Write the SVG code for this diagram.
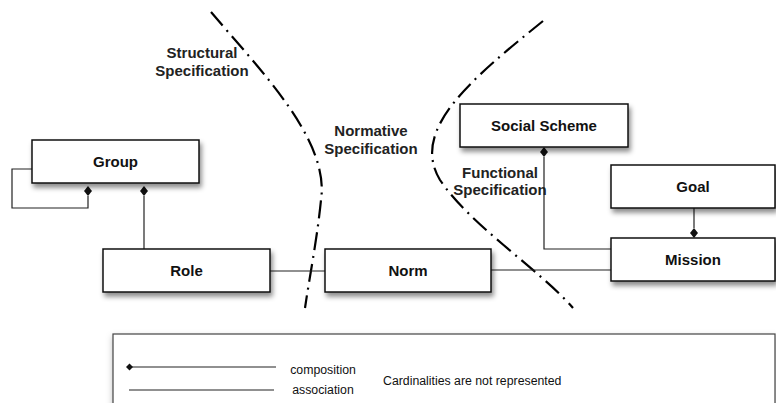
<svg xmlns="http://www.w3.org/2000/svg" width="776" height="403" viewBox="0 0 776 403">
  <defs>
    <filter id="shadow" x="-10%" y="-20%" width="130%" height="160%">
      <feDropShadow dx="2" dy="4" stdDeviation="2.5" flood-color="#000" flood-opacity="0.45"/>
    </filter>
    <filter id="soft" x="-5%" y="-20%" width="115%" height="160%">
      <feDropShadow dx="0" dy="3" stdDeviation="3" flood-color="#000" flood-opacity="0.25"/>
    </filter>
  </defs>
  <style>
    .box { fill: #fff; stroke: #111; stroke-width: 1.5; filter: url(#shadow); }
    .name { font-family: "Liberation Sans", Arial, sans-serif; font-weight: bold; font-size: 15px; fill: #111; text-anchor: middle; }
    .zone { font-family: "Liberation Sans", Arial, sans-serif; font-weight: bold; font-size: 15px; fill: #222; text-anchor: middle; }
    .link { fill: none; stroke: #222; stroke-width: 1.2; }
    .dia { fill: #111; stroke: none; }
    .border { fill: none; stroke: #000; stroke-width: 2.2; stroke-dasharray: 18 6 2 6; }
    .legend { font-family: "Liberation Sans", Arial, sans-serif; font-size: 12.3px; fill: #111; }
  </style>

  <!-- specification boundaries -->
  <g id="boundaries">
    <path class="border" d="M211,12 C260,70 330,140 321,200 C317,240 309,280 305,308"/>
    <path class="border" d="M543,21 C470,80 410,130 440,180 C470,225 540,270 573,308"/>
  </g>

  <!-- area labels -->
  <g id="labels">
    <text class="zone" x="202" y="58">Structural</text>
    <text class="zone" x="202" y="76">Specification</text>
    <text class="zone" x="371" y="136">Normative</text>
    <text class="zone" x="371" y="154">Specification</text>
    <text class="zone" x="500" y="178">Functional</text>
    <text class="zone" x="500" y="195">Specification</text>
  </g>

  <!-- connectors -->
  <g id="connectors">
    <polyline class="link" points="32,169 12,169 12,208 88,208 88,196"/>
    <polygon class="dia" points="88,186 92,191 88,196 84,191"/>
    <line class="link" x1="144" y1="196" x2="144" y2="249"/>
    <polygon class="dia" points="144,186 148,191 144,196 140,191"/>
    <line class="link" x1="270" y1="271" x2="325" y2="271"/>
    <line class="link" x1="491" y1="270" x2="611" y2="270"/>
    <polyline class="link" points="544,157 544,249 611,249"/>
    <polygon class="dia" points="544,147 548,152 544,157 540,152"/>
    <line class="link" x1="694" y1="208" x2="694" y2="228"/>
    <polygon class="dia" points="694,228 698,233 694,238 690,233"/>
  </g>

  <!-- nodes -->
  <g id="group">
    <rect class="box" x="32" y="140" width="167" height="43"/>
    <text class="name" x="115.5" y="167">Group</text>
  </g>
  <g id="role">
    <rect class="box" x="103" y="249" width="167" height="43"/>
    <text class="name" x="186.5" y="276">Role</text>
  </g>
  <g id="norm">
    <rect class="box" x="325" y="249" width="166" height="43"/>
    <text class="name" x="408" y="276">Norm</text>
  </g>
  <g id="social-scheme">
    <rect class="box" x="460" y="104" width="168" height="43"/>
    <text class="name" x="544" y="131">Social Scheme</text>
  </g>
  <g id="goal">
    <rect class="box" x="611" y="165" width="164" height="43"/>
    <text class="name" x="693" y="192">Goal</text>
  </g>
  <g id="mission">
    <rect class="box" x="611" y="238" width="164" height="43"/>
    <text class="name" x="693" y="265">Mission</text>
  </g>

  <!-- legend -->
  <g id="legend">
    <rect x="113" y="334" width="662" height="90" fill="#fff" stroke="#444" stroke-width="1.2" filter="url(#soft)"/>
    <line class="link" x1="130" y1="367" x2="276" y2="367"/>
    <polygon class="dia" points="126,367 129.5,363.5 133,367 129.5,370.5"/>
    <line class="link" x1="129" y1="390" x2="274" y2="390"/>
    <text class="legend" x="323" y="374" text-anchor="middle">composition</text>
    <text class="legend" x="323" y="394" text-anchor="middle">association</text>
    <text class="legend" x="383" y="385">Cardinalities are not represented</text>
  </g>
</svg>
